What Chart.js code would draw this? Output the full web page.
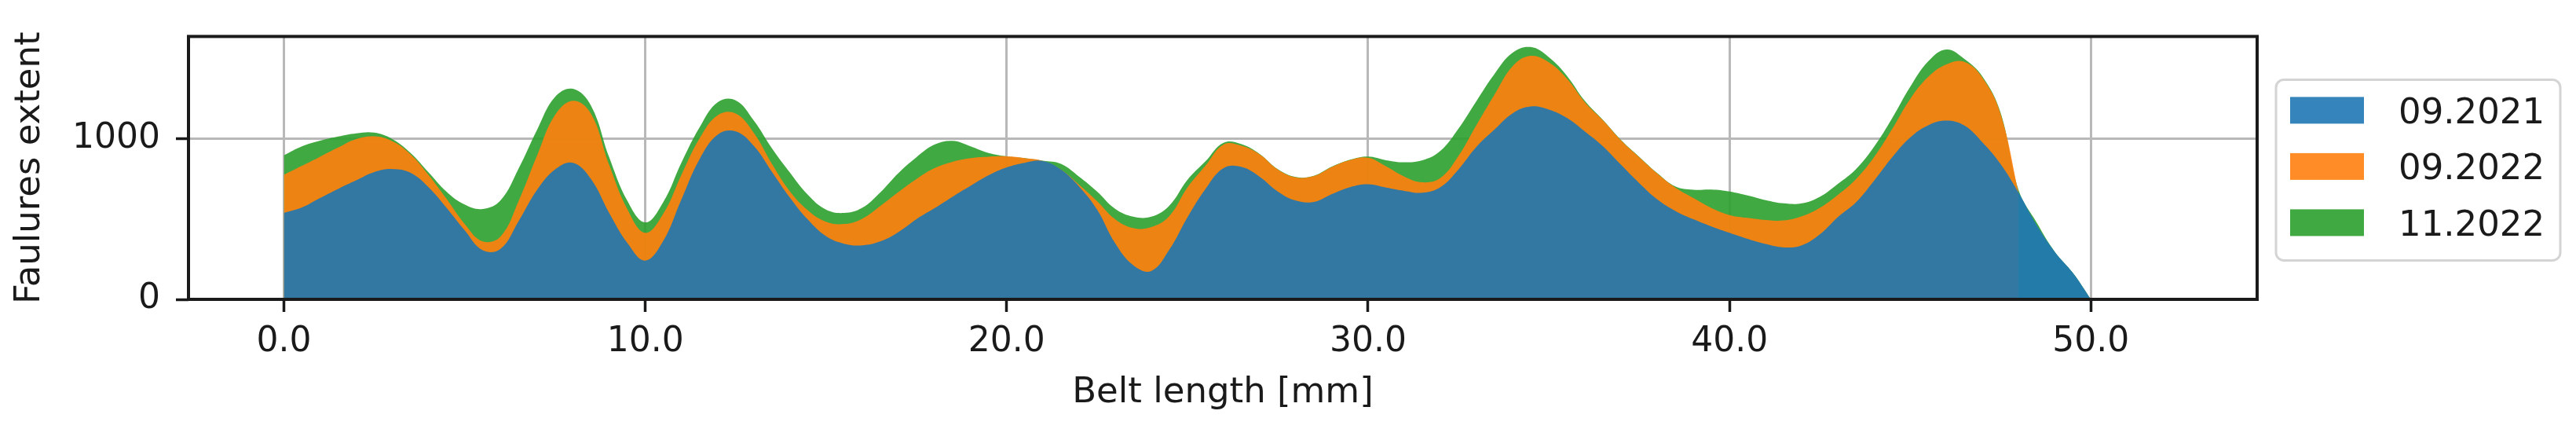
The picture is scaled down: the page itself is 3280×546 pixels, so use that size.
<!DOCTYPE html>
<html>
<head>
<meta charset="utf-8">
<script src="https://cdn.jsdelivr.net/npm/chart.js@4.4.1/dist/chart.umd.min.js"></script>
<style>
html,body{margin:0;padding:0;background:#ffffff;}
#wrap{width:3280px;height:546px;position:relative;}
</style>
</head>
<body>
<div id="wrap"><canvas id="c" width="3280" height="546"></canvas></div>
<script>
// ---- data ----
const beltLength = [
  0,0.5,1,1.5,2,2.5,3,3.5,4,4.5,
  5,5.5,6,6.5,7,7.5,8,8.5,9,9.5,
  10,10.5,11,11.5,12,12.5,13,13.5,14,14.5,
  15,15.5,16,16.5,17,17.5,18,18.5,19,19.5,
  20,20.5,21,21.5,22,22.5,23,23.5,24,24.5,
  25,25.5,26,26.5,27,27.5,28,28.5,29,29.5,
  30,30.5,31,31.5,32,32.5,33,33.5,34,34.5,
  35,35.5,36,36.5,37,37.5,38,38.5,39,39.5,
  40,40.5,41,41.5,42,42.5,43,43.5,44,44.5,
  45,45.5,46,46.5,47,47.5,48,48.5,49,49.5,
  50
];
const seriesNames = ['09.2021', '09.2022', '11.2022'];
const sep2021 = [
  539,573,632,689,742,794,813,790,700,571,
  431,306,316,490,681,810,852,750,539,353,
  242,366,624,874,1027,1048,958,797,635,497,
  394,347,337,361,419,500,568,640,708,774,
  823,852,863,810,705,560,350,213,177,310,
  511,689,819,826,765,673,616,608,657,700,
  718,697,677,665,700,810,952,1060,1161,1203,
  1184,1132,1047,955,839,726,624,552,500,455,
  415,377,345,324,337,405,513,605,740,886,
  1010,1086,1115,1084,979,844,665,463,297,165,
  0
];
const sep2022 = [
  238,260,258,258,258,223,174,116,77,56,
  40,56,77,126,213,339,387,407,300,211,
  173,169,153,129,121,111,81,50,39,58,
  90,123,166,221,250,250,250,218,173,116,
  69,29,0,0,11,53,150,232,274,210,
  186,145,147,132,139,137,145,161,169,169,
  165,132,89,65,57,84,136,218,294,316,
  295,245,182,161,152,161,161,145,132,115,
  111,131,150,168,181,166,139,145,147,176,
  240,302,350,397,403,313,0,null,null,null,
  null
];
const nov2022 = [
  121,121,100,69,36,23,13,8,16,45,
  121,202,226,202,161,113,74,50,48,52,
  65,73,76,69,81,82,77,97,118,97,
  76,69,68,85,118,136,147,131,74,23,
  0,0,2,35,50,60,65,71,65,65,
  48,27,11,10,3,2,2,2,2,2,
  8,39,89,137,169,171,150,129,84,55,
  32,18,8,3,3,3,3,8,52,115,
  147,140,124,107,81,69,69,63,65,68,
  76,97,94,19,8,8,16,16,0,0,
  0
];
const xTickValues = [0, 10, 20, 30, 40, 50];
const xTickLabels = ['0.0', '10.0', '20.0', '30.0', '40.0', '50.0'];
const yTickValues = [0, 1000];
const yTickLabels = ['0', '1000'];
const xTitle = 'Belt length [mm]';
const yTitle = 'Faulures extent';

// ---- styling ----
const FONT = '"DejaVu Sans", sans-serif';
const TEXT = '#1a1a1a';
const fillColors = ['rgba(31,119,180,0.9)', 'rgba(255,127,14,0.9)', 'rgba(44,160,44,0.9)'];

const toPoints = arr => beltLength.map((x, i) => ({ x: x, y: arr[i] }));

const framePlugin = {
  id: 'frame',
  afterDatasetsDraw(chart) {
    const { ctx, chartArea: a } = chart;
    ctx.save();
    ctx.strokeStyle = '#1a1a1a';
    ctx.lineWidth = 4;
    ctx.strokeRect(a.left, a.top, a.right - a.left, a.bottom - a.top);
    ctx.restore();
  }
};

const legendPlugin = {
  id: 'mplLegend',
  afterDraw(chart) {
    const { ctx, chartArea: a } = chart;
    const bx = a.right + 24, by = a.top + 55, bw = 362, bh = 230;
    ctx.save();
    ctx.beginPath();
    ctx.roundRect(bx, by, bw, bh, 10);
    ctx.fillStyle = 'rgba(255,255,255,0.8)';
    ctx.fill();
    ctx.lineWidth = 3;
    ctx.strokeStyle = '#d4d4d4';
    ctx.stroke();
    ctx.font = '45px ' + FONT;
    ctx.textBaseline = 'alphabetic';
    ctx.textAlign = 'left';
    chart.data.datasets.forEach((ds, i) => {
      const cy = by + 39 + i * 71.5;
      ctx.fillStyle = ds.backgroundColor;
      ctx.fillRect(bx + 18, cy - 17, 94, 34);
      ctx.fillStyle = TEXT;
      ctx.fillText(ds.label, bx + 156, cy + 16.5);
    });
    ctx.restore();
  }
};

const datasets = [sep2021, sep2022, nov2022].map((arr, i) => ({
  label: seriesNames[i],
  data: toPoints(arr),
  backgroundColor: fillColors[i],
  borderColor: 'rgba(0,0,0,0)',
  borderWidth: 0,
  fill: 'origin',
  pointRadius: 0,
  pointHoverRadius: 0,
  tension: 0.4,
  spanGaps: false
}));

new Chart(document.getElementById('c').getContext('2d'), {
  type: 'line',
  data: { datasets: datasets },
  options: {
    responsive: false,
    animation: false,
    devicePixelRatio: 1,
    layout: { padding: { top: 41, right: 406, bottom: 0, left: 0 } },
    plugins: { legend: { display: false }, tooltip: { enabled: false } },
    scales: {
      x: {
        type: 'linear',
        min: -2.64,
        max: 54.6,
        afterBuildTicks: s => { s.ticks = xTickValues.map(v => ({ value: v })); },
        afterFit: s => { s.height = 165; },
        ticks: {
          callback: v => { const k = xTickValues.indexOf(v); return k >= 0 ? xTickLabels[k] : ''; },
          font: { family: FONT, size: 44 },
          color: TEXT,
          padding: 12,
          maxRotation: 0,
          autoSkip: false
        },
        grid: { color: '#b8b8b8', lineWidth: 3, tickColor: '#1a1a1a', tickWidth: 3.5, tickLength: 16 },
        border: { display: false },
        title: { display: true, text: xTitle, font: { family: FONT, size: 45 }, color: TEXT, padding: { top: 0, bottom: 19 } }
      },
      y: {
        stacked: true,
        min: 0,
        max: 1640,
        afterBuildTicks: s => { s.ticks = yTickValues.map(v => ({ value: v })); },
        afterFit: s => { s.width = 240; },
        ticks: {
          callback: v => { const k = yTickValues.indexOf(v); return k >= 0 ? yTickLabels[k] : ''; },
          font: { family: FONT, size: 44 },
          color: TEXT,
          padding: 20
        },
        grid: { color: '#b8b8b8', lineWidth: 3, tickColor: '#1a1a1a', tickWidth: 3.5, tickLength: 16 },
        border: { display: false },
        title: { display: true, text: yTitle, font: { family: FONT, size: 45 }, color: TEXT, padding: { top: 11, bottom: 0 } }
      }
    }
  },
  plugins: [framePlugin, legendPlugin]
});
</script>
</body>
</html>
